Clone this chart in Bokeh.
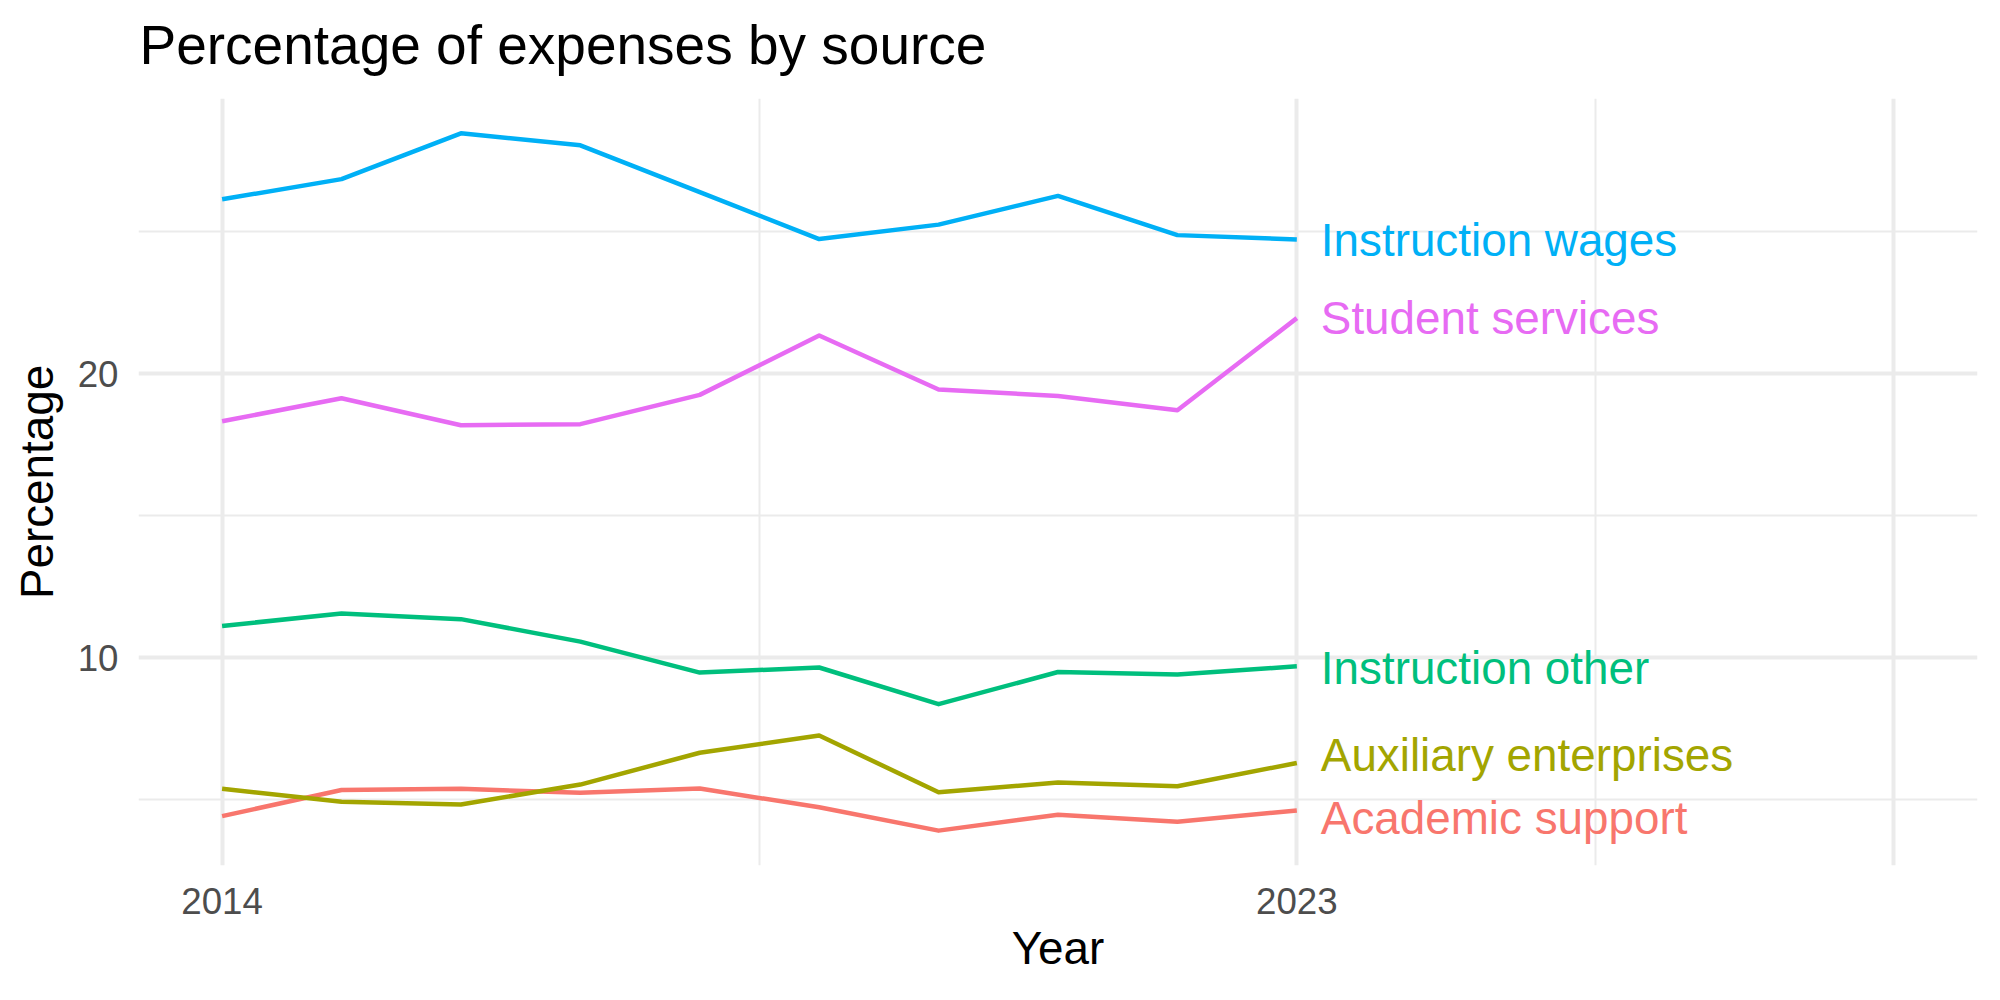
from bokeh.plotting import figure
from bokeh.models import FixedTicker, Range1d, ColumnDataSource, Label
from bokeh.core.properties import value
from bokeh.embed import file_html
from bokeh.resources import INLINE

# Share of total expenses (%) by source, 2014-2023
years = [2014, 2015, 2016, 2017, 2018, 2019, 2020, 2021, 2022, 2023]
academic_support = [4.43, 5.35, 5.39, 5.25, 5.40, 4.74, 3.92, 4.48, 4.23, 4.63]
auxiliary_enterprises = [5.39, 4.94, 4.84, 5.54, 6.66, 7.27, 5.27, 5.61, 5.48, 6.30]
instruction_other = [11.12, 11.56, 11.36, 10.57, 9.48, 9.66, 8.37, 9.50, 9.41, 9.70]
instruction_wages = [26.13, 26.84, 28.45, 28.03, 26.38, 24.73, 25.24, 26.25, 24.87, 24.72]
student_services = [18.32, 19.13, 18.18, 18.22, 19.25, 21.34, 19.44, 19.21, 18.71, 21.95]

series_names = ["Academic support", "Auxiliary enterprises", "Instruction other",
                "Instruction wages", "Student services"]
series_values = [academic_support, auxiliary_enterprises, instruction_other,
                 instruction_wages, student_services]
series_colors = ["#F8766D", "#A3A500", "#00BF7D", "#00B0F6", "#E76BF3"]
# vertical nudges (px) that keep the end labels from colliding
label_nudge = [8, -7, 2, 1, 0]

x_breaks = [2014, 2023, 2028]
x_minor = [2018.5, 2025.5]
x_labels = {2014: "2014", 2023: "2023", 2028: ""}
y_breaks = [10, 20]
y_minor = [5, 15, 25]

FONT = "Liberation Sans"

# scale limits with a 5% expansion on each side
x_lo, x_hi = min(x_breaks), max(x_breaks)
x_pad = 0.05 * (x_hi - x_lo)
all_vals = [v for s in series_values for v in s]
y_lo, y_hi = min(all_vals), max(all_vals)
y_pad = 0.05 * (y_hi - y_lo)

p = figure(
    frame_width=1839, frame_height=767,
    min_border_left=138, min_border_right=23,
    min_border_top=98, min_border_bottom=135,
    x_range=Range1d(x_lo - x_pad, x_hi + x_pad),
    y_range=Range1d(y_lo - y_pad, y_hi + y_pad),
    output_backend="svg", toolbar_location=None,
    background_fill_color="white", border_fill_color="white",
)
p.outline_line_color = None

# title, drawn in the top margin (screen px measured up from the plot area's top edge)
title = Label(
    x=1, y=54, x_units="screen", y_units="screen",
    text="Percentage of expenses by source",
    text_font=FONT, text_font_size="55px", text_color="black",
    text_align="left", text_baseline="alphabetic",
)
p.add_layout(title, "above")

# axes
p.xaxis.ticker = FixedTicker(ticks=x_breaks, minor_ticks=x_minor)
p.yaxis.ticker = FixedTicker(ticks=y_breaks, minor_ticks=y_minor)
p.xaxis.major_label_overrides = x_labels
p.xaxis.axis_label = "Year"
p.yaxis.axis_label = "Percentage"
for ax in (p.xaxis, p.yaxis):
    ax.axis_line_color = None
    ax.major_tick_line_color = None
    ax.minor_tick_line_color = None
    ax.major_tick_out = 0
    ax.minor_tick_out = 0
    ax.major_label_text_font = FONT
    ax.major_label_text_font_size = "36.7px"
    ax.major_label_text_color = "#4D4D4D"
    ax.axis_label_text_font = FONT
    ax.axis_label_text_font_size = "45.8px"
    ax.axis_label_text_font_style = "normal"
    ax.axis_label_text_color = "black"
p.xaxis.major_label_standoff = 22
p.xaxis.axis_label_standoff = 6
p.yaxis.major_label_standoff = 20
p.yaxis.axis_label_standoff = 12
p.yaxis.major_label_orientation = "horizontal"

# grid
for g in (p.xgrid, p.ygrid):
    g.grid_line_color = "#EBEBEB"
    g.grid_line_width = 4
    g.minor_grid_line_color = "#EBEBEB"
    g.minor_grid_line_width = 2

# series lines
for name, vals, color in zip(series_names, series_values, series_colors):
    p.line(years, vals, line_color=color, line_width=4.5, line_join="round")

# end-of-line labels
for name, vals, color, nudge in zip(series_names, series_values, series_colors, label_nudge):
    src = ColumnDataSource(dict(x=[years[-1]], y=[vals[-1]], t=[name]))
    p.text(x="x", y="y", text="t", source=src, x_offset=24, y_offset=nudge,
           text_font=value(FONT), text_font_size="45.8px", text_color=color,
           text_align="left", text_baseline="middle")

open("out.html", "w").write(file_html(p, INLINE))
